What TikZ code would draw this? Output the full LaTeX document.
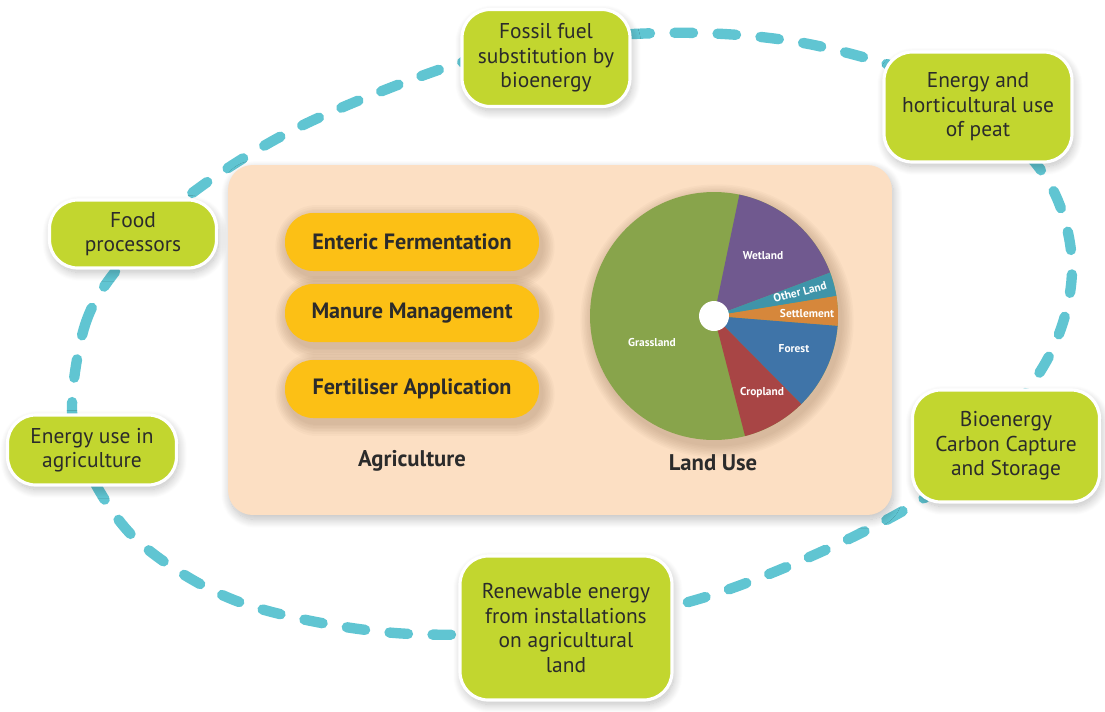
\documentclass[tikz,border=0pt]{standalone}
\usepackage{fontspec}
\setmainfont{PT Sans}
\usetikzlibrary{positioning,shadows.blur}
\tikzset{every picture/.style={line width=0.75pt}}

\definecolor{loopblue}{HTML}{60C5D2}
\definecolor{lime}{HTML}{C2D62F}
\definecolor{sand}{HTML}{FCDFC3}
\definecolor{amber}{HTML}{FCC015}
\definecolor{ink}{HTML}{2B2B2B}
\definecolor{dusk}{HTML}{6B4A2E}
\definecolor{grass}{HTML}{88A44B}
\definecolor{wet}{HTML}{70598F}
\definecolor{otherland}{HTML}{3F94A9}
\definecolor{settle}{HTML}{D6873B}
\definecolor{woods}{HTML}{3F74A8}
\definecolor{crop}{HTML}{A84545}

\tikzset{
  soft/.style={blur shadow={shadow xshift=1pt, shadow yshift=-2.5pt, shadow blur radius=5pt,
    shadow blur steps=18, shadow opacity=26}},
  halo/.style={dusk, opacity=0.032, line cap=round},
  lever/.style={rectangle, rounded corners=16pt, fill=lime, draw=white, line width=1.8pt,
    align=center, text=ink, inner sep=0pt, font=\fontsize{12.2}{14}\selectfont, soft},
  source/.style={rectangle, rounded corners=16pt, fill=amber, minimum width=5.08cm,
    minimum height=1.16cm, text=ink, font=\bfseries\fontsize{12.6}{14}\selectfont},
  piece/.style={text=white, font=\bfseries\fontsize{6.5}{7.5}\selectfont, inner sep=0pt},
  heading/.style={font=\bfseries\fontsize{12.9}{15}\selectfont},
}

\begin{document}
\begin{tikzpicture}[x=0.02cm, y=-0.02cm, every node/.style={text=ink}]
        \useasboundingbox (0,0) rectangle (1105,711);

        \draw[loopblue, line width=5.9pt, line cap=round, dash pattern=on 10.5pt off 14pt]
            plot[smooth cycle, tension=0.55] coordinates {
            (72,410) (85,325) (118,268) (187,197) (297,128) (447,67) (560,40)
            (700,33) (823,47) (950,90) (1043,173) (1072,265) (1047,360) (960,470)
            (863,532) (712,595) (560,628) (395,633) (242,603) (140,543) (88,470)};

        \node[rectangle, rounded corners=14pt, fill=sand, minimum width=13.28cm,
            minimum height=7cm, soft] (panel) at (560,340) {};

        % brownish halo under the pills and the pie
        \foreach \y in {242,313,389}
            \foreach \s in {1,...,8}
                \draw[halo, line width={1.16cm+\s*1.8pt}] (317,\y+5) -- (513,\y+5);
        \foreach \s in {1,...,8}
            \fill[halo] (717,321) circle[radius={2.48cm+\s*0.9pt}];

        \node[source] (ent)  at (412,242) {Enteric Fermentation};
        \node[source] (man)  at (412,313) {Manure Management};
        \node[source] (fert) at (412,389) {Fertiliser Application};
        \node[heading] (agri) at (412,461) {Agriculture};

        \node[circle, fill=grass, minimum size=4.96cm, inner sep=0pt] (pie) at (714,316) {};
        \begin{scope}[shift={(pie.center)}]
            \fill[wet]       (0,0) -- (78.2:2.48cm)  arc[start angle=78.2,  end angle=20.5,  radius=2.48cm] -- cycle;
            \fill[otherland] (0,0) -- (20.5:2.48cm)  arc[start angle=20.5,  end angle=9.3,   radius=2.48cm] -- cycle;
            \fill[settle]    (0,0) -- (9.3:2.48cm)   arc[start angle=9.3,   end angle=-4.6,  radius=2.48cm] -- cycle;
            \fill[woods]     (0,0) -- (-4.6:2.48cm)  arc[start angle=-4.6,  end angle=-45.3, radius=2.48cm] -- cycle;
            \fill[crop]      (0,0) -- (-45.3:2.48cm) arc[start angle=-45.3, end angle=-75.5, radius=2.48cm] -- cycle;
        \end{scope}
        \node[circle, fill=white, minimum size=0.6cm, inner sep=0pt] (hole) at (pie) {};
        \node[piece] (grassl) at (652,342) {Grassland};
        \node[piece] (wetl)   at (763,256) {Wetland};
        \node[piece, rotate=15] (otherl) at (800,292) {Other Land};
        \node[piece] (settl)  at (807,313) {Settlement};
        \node[piece] (forl)   at (794,349) {Forest};
        \node[piece] (cropl)  at (762,393) {Cropland};
        \node[heading] (landuse) at (713,463) {Land Use};

        \node[lever, minimum width=3.36cm, minimum height=1.94cm] (fossil) at (546,58)  {Fossil fuel\\substitution by\\bioenergy};
        \node[lever, minimum width=3.76cm, minimum height=2.2cm]  (peat)   at (978,107) {Energy and\\horticultural use\\of peat};
        \node[lever, minimum width=3.34cm, minimum height=1.36cm] (food)   at (133,234) {Food\\processors};
        \node[lever, minimum width=3.38cm, minimum height=1.4cm]  (enuse)  at (92,450)  {Energy use in\\agriculture};
        \node[lever, minimum width=3.74cm, minimum height=2.24cm] (beccs)  at (1006,446) {Bioenergy\\Carbon Capture\\and Storage};
        \node[lever, minimum width=4.24cm, minimum height=2.88cm] (renew)  at (566,628) {Renewable energy\\from installations\\on agricultural\\land};
    \end{tikzpicture}
\end{document}
